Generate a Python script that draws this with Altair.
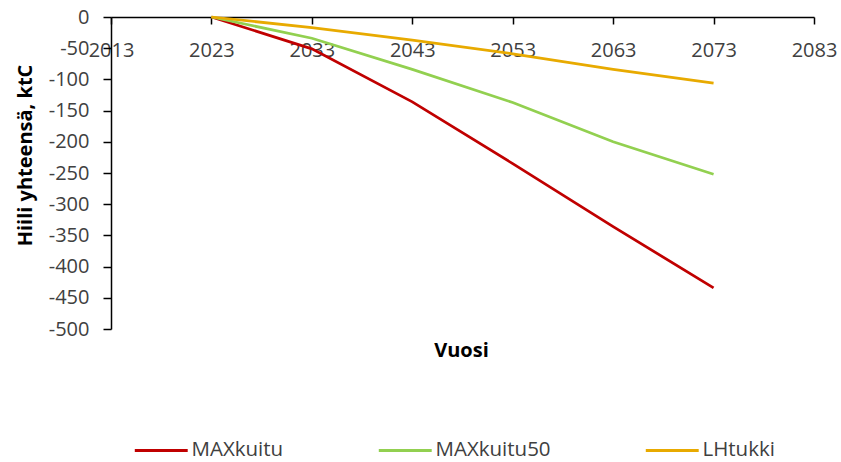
import altair as alt
import pandas as pd

# Carbon stock change per scenario (ktC)
years = [2023, 2033, 2043, 2053, 2063, 2073]
series_names = ["MAXkuitu", "MAXkuitu50", "LHtukki"]
maxkuitu = [0, -51, -136, -235, -336, -434]
maxkuitu50 = [0, -34, -84, -137, -200, -252]
lhtukki = [0, -17, -37, -59, -84, -106]
colors = ["#C00000", "#92D050", "#E8AA00"]
x_ticks = [2013, 2023, 2033, 2043, 2053, 2063, 2073, 2083]
y_ticks = [0, -50, -100, -150, -200, -250, -300, -350, -400, -450, -500]

rows = []
for name, vals in zip(series_names, [maxkuitu, maxkuitu50, lhtukki]):
    for yr, v in zip(years, vals):
        rows.append({"Vuosi": yr, "Hiili": v, "Skenaario": name})
df = pd.DataFrame(rows)

PLOT_W, PLOT_H = 703, 312

# Long legend line drawn from a small symbol: path spans 10 units, scaled by sqrt(size)/2
LEGEND_PATH = "M-5,0H5"
LEGEND_SIZE = 112

chart = (
    alt.Chart(df)
    .mark_line(strokeWidth=2.75)
    .encode(
        x=alt.X(
            "Vuosi:Q",
            scale=alt.Scale(domain=[2013, 2083], nice=False, zero=False),
            axis=alt.Axis(
                title="Vuosi",
                values=x_ticks,
                labelExpr="toString(datum.value)",
                orient="bottom",
                offset=-PLOT_H,
                tickSize=7,
                labelPadding=16,
                labelFlush=False,
                labelOverlap=False,
                titleX=350,
                titleY=333,
                titleBaseline="middle",
                titleAlign="center",
            ),
        ),
        y=alt.Y(
            "Hiili:Q",
            scale=alt.Scale(domain=[-500, 0], nice=False, zero=False),
            axis=alt.Axis(
                title="Hiili yhteensä, ktC",
                values=y_ticks,
                labelExpr="toString(datum.value)",
                tickSize=8,
                labelPadding=14,
                labelFlush=False,
                labelOverlap=False,
                titleX=-86,
                titleY=138,
                titleAngle=-90,
                titleBaseline="middle",
                titleAlign="center",
            ),
        ),
        color=alt.Color(
            "Skenaario:N",
            scale=alt.Scale(domain=series_names, range=colors),
            sort=series_names,
            legend=alt.Legend(
                title=None,
                orient="none",
                direction="horizontal",
                legendX=40,
                legendY=423,
                symbolType=LEGEND_PATH,
                symbolSize=LEGEND_SIZE,
                symbolStrokeWidth=3,
                labelFont="Open Sans",
                labelFontSize=20.5,
                labelColor="#404040",
                labelOffset=20,
                columnPadding=88,
            ),
        ),
    )
    .properties(
        width=PLOT_W,
        height=PLOT_H,
        autosize=alt.AutoSizeParams(type="none"),
        padding={"left": 111, "top": 17, "right": 27, "bottom": 133},
        background="white",
    )
    .configure_view(stroke=None)
    .configure_axis(
        grid=False,
        domainColor="#000000",
        domainWidth=1.5,
        tickColor="#000000",
        tickWidth=1.5,
        labelFont="Open Sans",
        labelFontSize=20,
        labelColor="#404040",
        titleFont="Open Sans",
        titleFontSize=20,
        titleFontWeight="bold",
        titleColor="#000000",
    )
)

chart.save("out.html", embed_options={"renderer": "svg", "actions": False})
